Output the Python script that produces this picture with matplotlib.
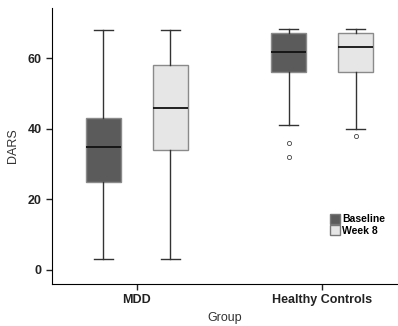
import matplotlib
matplotlib.use('Agg')
import matplotlib.pyplot as plt
from matplotlib.patches import Patch

plt.rcParams['font.family'] = ['Liberation Sans', 'DejaVu Sans']

# Data
groups = ['MDD', 'Healthy Controls']
series = ['Baseline', 'Week 8']
colors = ['#5b5b5b', '#e6e6e6']

# whislo, q1, median, q3, whishi, outliers
baseline = [
    [3, 25, 35, 43, 68, []],
    [41, 56, 61.7, 67.3, 68.3, [36, 32]],
]
week8 = [
    [3, 34, 46, 58, 68, []],
    [40, 56, 63.3, 67.3, 68.3, [38]],
]

fig = plt.figure(figsize=(3.98, 3.26), dpi=100)
ax = fig.add_axes([0.1307, 0.1288, 0.8693, 0.8467])

offset = 0.181
for s, (name, data) in enumerate(zip(series, [baseline, week8])):
    stats = []
    for vals in data:
        stats.append(dict(whislo=vals[0], q1=vals[1], med=vals[2], q3=vals[3],
                          whishi=vals[4], fliers=vals[5]))
    pos = [g + (s * 2 - 1) * offset for g in range(len(groups))]
    ax.bxp(stats, positions=pos, widths=0.19, patch_artist=True, capwidths=0.1,
           boxprops=dict(facecolor=colors[s], edgecolor='#8a8a8a', linewidth=1.0),
           whiskerprops=dict(color='#333333', linewidth=1.0),
           capprops=dict(color='#333333', linewidth=1.0),
           medianprops=dict(color='#111111', linewidth=1.3),
           flierprops=dict(marker='o', markersize=3, markerfacecolor='white',
                           markeredgecolor='#444444', markeredgewidth=0.6))

ax.set_xlim(-0.459, 1.41)
ax.set_ylim(-4, 74.3)
ax.set_xticks(range(len(groups)))
ax.set_xticklabels(groups, fontsize=9, fontweight='bold')
ax.set_yticks([0, 20, 40, 60])
ax.set_yticklabels(['0', '20', '40', '60'], fontsize=9, fontweight='bold')
ax.tick_params(direction='out', length=4, width=1, colors='#222222')
ax.spines['top'].set_visible(False)
ax.spines['right'].set_visible(False)
ax.set_ylabel('DARS', fontsize=9, color='#333333', labelpad=6)
ax.set_xlabel('Group', fontsize=9, color='#333333', labelpad=4)

handles = [Patch(facecolor=colors[i], edgecolor='#777777', label=series[i]) for i in range(2)]
leg = ax.legend(handles=handles, loc='lower right', bbox_to_anchor=(0.975, 0.16),
                frameon=False, fontsize=7.5, handlelength=1.0, handleheight=1.0,
                handletextpad=0.2, labelspacing=0.1, borderaxespad=0)
for t in leg.get_texts():
    t.set_fontweight('bold')

fig.savefig('out.png', dpi=100)
